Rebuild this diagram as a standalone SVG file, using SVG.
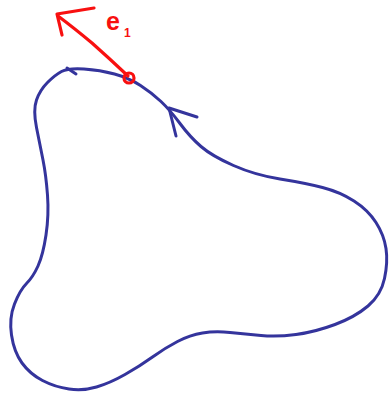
<svg xmlns="http://www.w3.org/2000/svg" width="391" height="394" viewBox="0 0 391 394">
<style>
.blue{fill:none;stroke:#34349c;stroke-width:3;stroke-linecap:round;stroke-linejoin:round}
.red{fill:none;stroke:#f81010;stroke-width:3.2;stroke-linecap:round;stroke-linejoin:round}
.lbl{fill:#f81010;font-family:"Liberation Sans",Arial,sans-serif;font-weight:bold}
</style>
<rect width="391" height="394" fill="#fff"/>
<g id="curve">
<path class="blue" d="M61.5,71.5 Q68,68 84,69 Q100,70 114.5,74 Q129,78 140.5,85.5 Q152,93 161,101.5 Q170,110 180,123.5 Q190,137 201,146.5 Q212,156 233.5,165.5 Q255,175 280,179 Q305,183 322.5,187.5 Q340,192 354,201 Q368,210 376,222.5 Q384,235 386,248.5 Q388,262 384.5,278.5 Q381,295 368,306 Q355,317 335,324.5 Q315,332 296,334.5 Q277,337 261,335.5 Q245,334 230,332.5 Q215,331 202.5,333 Q190,335 177.5,341.5 Q165,348 152.5,357 Q140,366 125,374.5 Q110,383 96.5,387 Q83,391 69,389 Q55,387 42.5,380.5 Q30,374 22,363 Q14,352 11.5,335 Q9,318 14.5,304 Q20,290 26.5,283.5 Q33,277 38,266 Q43,255 46,235 Q49,215 47.5,195 Q46,175 43,160 Q40,145 36.5,127.5 Q33,110 36.5,100 Q40,90 47.5,82.5 Q55,75 61.5,71.5"/>
<path class="blue" d="M67,68 L76,74"/>
</g>
<g id="orientation-arrow">
<path class="blue" d="M197,117 L169,108 L176,136"/>
</g>
<g id="e1-vector">
<path class="red" d="M128,76 Q110,59 92,43 Q74,28 58,16"/>
<path class="red" d="M62,35 L57,14 L94,8"/>
<circle class="red" cx="129" cy="78" r="5"/>
<text class="lbl" x="106" y="30" font-size="25">e</text>
<text class="lbl" x="124" y="37" font-size="12">1</text>
</g>
</svg>
